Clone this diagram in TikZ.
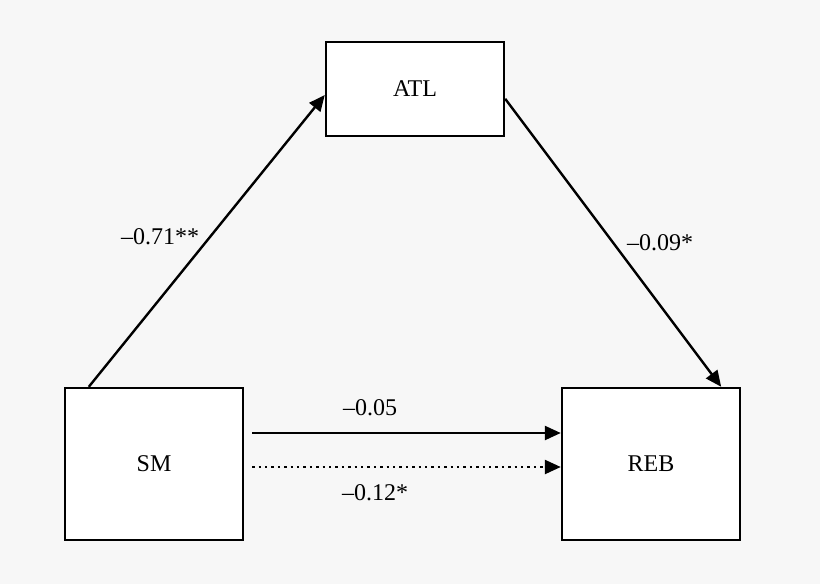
\documentclass[tikz,border=0pt]{standalone}
\usepackage{fontspec}
\setmainfont{Liberation Serif}
\usetikzlibrary{arrows.meta,calc}

\begin{document}
\begin{tikzpicture}[x=0.5pt, y=-0.5pt,
  box/.style={draw, line width=1.2pt, fill=white, minimum width=89pt, minimum height=47pt, font=\large},
  bigbox/.style={box, minimum height=76pt},
  path/.style={line width=1.2pt, -{Triangle[length=8pt,width=7pt]}},
  coef/.style={font=\large}]
  \fill[black!3] (0,0) rectangle (820,584);
  \useasboundingbox (0,0) rectangle (820,584);
  % boxes
  \node[box] (atl) at (415,89) {ATL};
  \node[bigbox] (sm) at (154,464) {SM};
  \node[bigbox] (reb) at (651,464) {REB};
  % paths
  \draw[path] ([xshift=12.5pt]sm.north west) -- ([yshift=-3pt]atl.west);
  \draw[path] ([yshift=-29pt]atl.north east) -- ([xshift=-10pt]reb.north east);
  \draw[path] ([xshift=4pt,yshift=15.5pt]sm.east) -- ([yshift=15.5pt]reb.west);
  \draw[path, dotted] ([xshift=4pt,yshift=-1.5pt]sm.east) -- ([yshift=-1.5pt]reb.west);
  % coefficients
  \node[coef] (a) at (160,237) {–0.71**};
  \node[coef] (b) at (660,243) {–0.09*};
  \node[coef] (c) at (370,408) {–0.05};
  \node[coef] (d) at (375,493) {–0.12*};
\end{tikzpicture}
\end{document}
